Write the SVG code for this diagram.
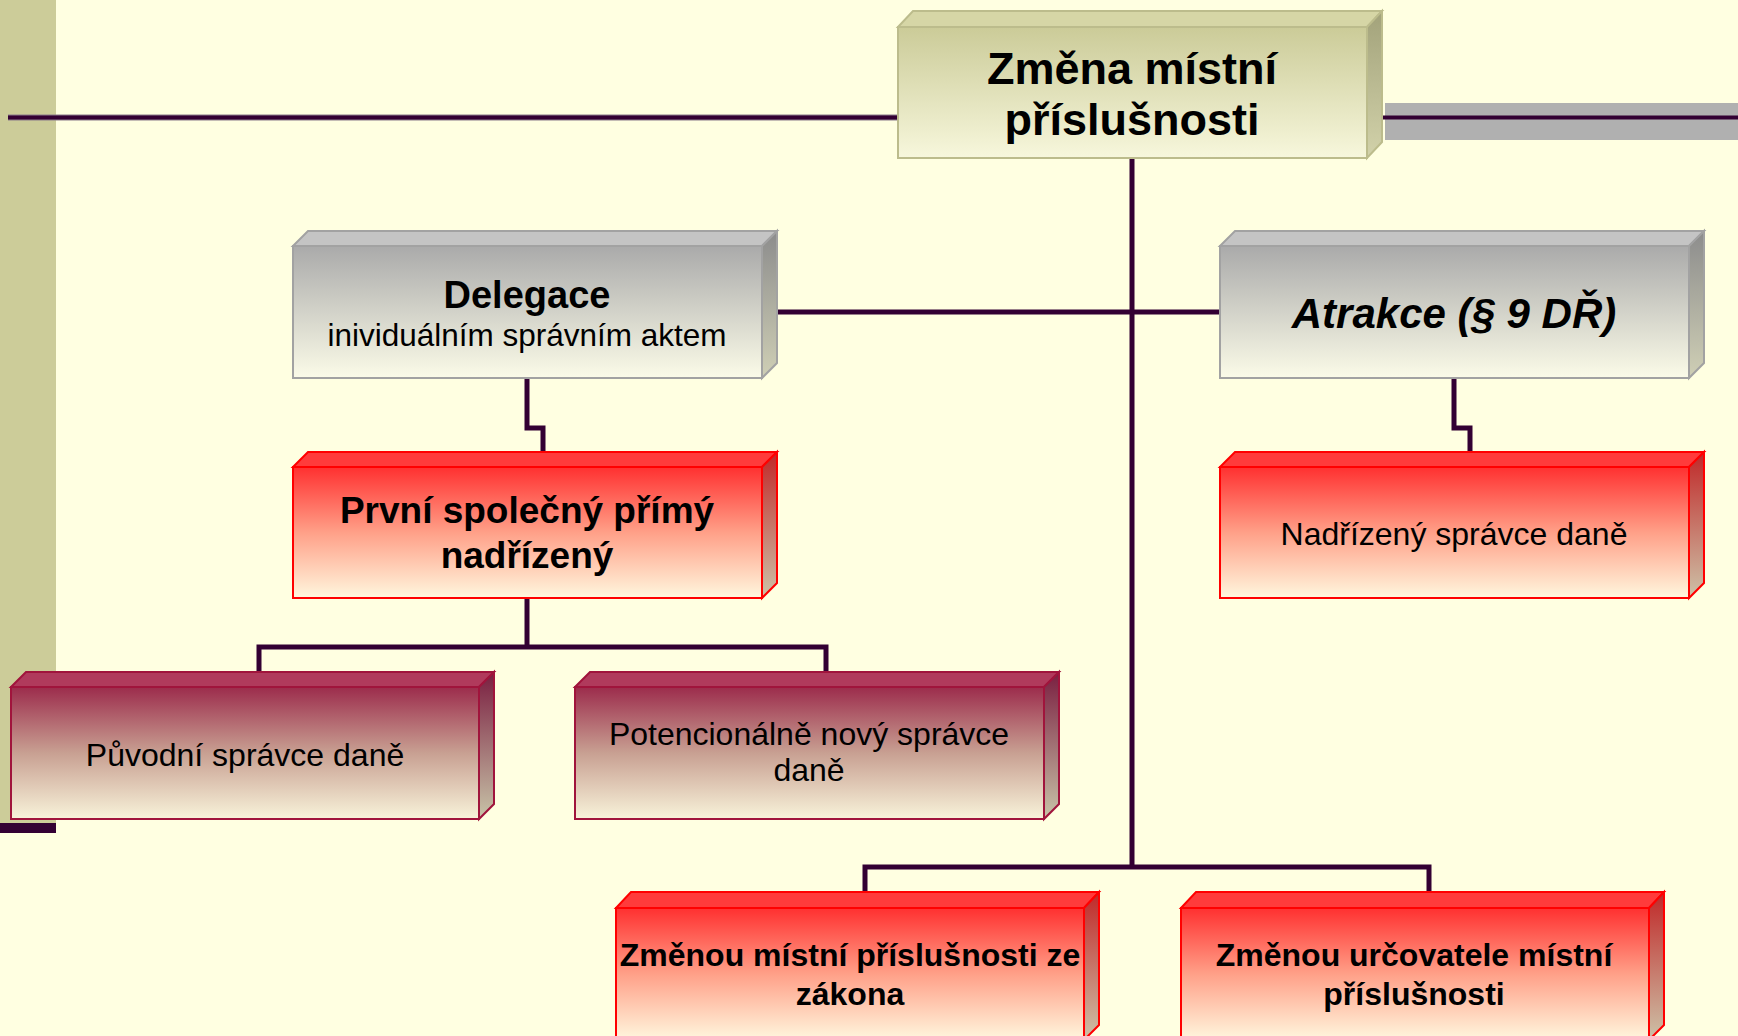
<svg xmlns="http://www.w3.org/2000/svg" width="1738" height="1036" viewBox="0 0 1738 1036">
<defs>
<linearGradient id="fGray" x1="0" y1="0" x2="0" y2="1"><stop offset="0" stop-color="#aaaaaa"/><stop offset="1" stop-color="#fbfbe8"/></linearGradient>
<linearGradient id="sGray" x1="0" y1="0" x2="0" y2="1"><stop offset="0" stop-color="#8c8c8c"/><stop offset="1" stop-color="#cfcfb5"/></linearGradient>
<linearGradient id="fOlive" x1="0" y1="0" x2="0" y2="1"><stop offset="0" stop-color="#cbcb98"/><stop offset="1" stop-color="#f7f7dc"/></linearGradient>
<linearGradient id="sOlive" x1="0" y1="0" x2="0" y2="1"><stop offset="0" stop-color="#a2a27a"/><stop offset="1" stop-color="#d2d2aa"/></linearGradient>
<linearGradient id="fRed" x1="0" y1="0" x2="0" y2="1"><stop offset="0" stop-color="#ff3030"/><stop offset="0.5" stop-color="#ffa088"/><stop offset="1" stop-color="#fff7de"/></linearGradient>
<linearGradient id="sRed" x1="0" y1="0" x2="0" y2="1"><stop offset="0" stop-color="#c02828"/><stop offset="1" stop-color="#cdc2a8"/></linearGradient>
<linearGradient id="fMar" x1="0" y1="0" x2="0" y2="1"><stop offset="0" stop-color="#9c2c4c"/><stop offset="0.5" stop-color="#c8a092"/><stop offset="1" stop-color="#f8f3da"/></linearGradient>
<linearGradient id="sMar" x1="0" y1="0" x2="0" y2="1"><stop offset="0" stop-color="#7a1e40"/><stop offset="1" stop-color="#c8c4a8"/></linearGradient>
</defs>
<style>
text{font-family:"Liberation Sans",Arial,sans-serif;fill:#000;text-anchor:middle}
.b{font-weight:bold}
.gray .f{fill:url(#fGray)} .gray .s{fill:url(#sGray)} .gray .t{fill:#c4c4c4} .gray polygon,.gray rect{stroke:#a2a2a2;stroke-width:2}
.olive .f{fill:url(#fOlive)} .olive .s{fill:url(#sOlive)} .olive .t{fill:#d6d6a6} .olive polygon,.olive rect{stroke:#bcbc8c;stroke-width:2}
.red .f{fill:url(#fRed)} .red .s{fill:url(#sRed)} .red .t{fill:#ff3b3b} .red polygon,.red rect{stroke:#ff0000;stroke-width:2}
.mar .f{fill:url(#fMar)} .mar .s{fill:url(#sMar)} .mar .t{fill:#b03a5c} .mar polygon,.mar rect{stroke:#a0143c;stroke-width:2}
.c{fill:none;stroke:#330033;stroke-width:5}
</style>
<rect width="1738" height="1036" fill="#ffffe1"/>
<rect x="0" y="0" width="56" height="823" fill="#cccc99"/>
<rect x="0" y="823" width="56" height="10" fill="#330033"/>
<rect x="1385" y="103" width="353" height="37" fill="#b0b0b0"/>
<g id="connectors">
<line x1="8" y1="117.5" x2="898" y2="117.5" stroke="#8a7a8a" stroke-width="6"/>
<line x1="8" y1="117.5" x2="898" y2="117.5" stroke="#330033" stroke-width="4"/>
<line x1="1380" y1="117.5" x2="1738" y2="117.5" stroke="#330033" stroke-width="4"/>
<path class="c" d="M1132,158 V867"/>
<path class="c" d="M777,312 H1220"/>
<path class="c" d="M865,892 V867 H1429 V892"/>
<path class="c" d="M527,378 V428 H543 V452"/>
<path class="c" d="M1454,378 V428 H1470 V452"/>
<path class="c" d="M527,598 V647"/>
<path class="c" d="M259,672 V647 H826 V672"/>
</g>
<g id="n-zmena" class="olive">
<polygon class="t" points="898,27 913,11 1382,11 1367,27"/>
<polygon class="s" points="1367,27 1382,11 1382,142 1367,158"/>
<rect class="f" x="898" y="27" width="469" height="131"/>
<text class="b" x="1132" y="84" font-size="45">Změna místní</text>
<text class="b" x="1132" y="135" font-size="45">příslušnosti</text>
</g>
<g id="n-delegace" class="gray">
<polygon class="t" points="293,246 308,231 777,231 762,246"/>
<polygon class="s" points="762,246 777,231 777,363 762,378"/>
<rect class="f" x="293" y="246" width="469" height="132"/>
<text class="b" x="527" y="308" font-size="38">Delegace</text>
<text x="527" y="346" font-size="31.5">inividuálním správním aktem</text>
</g>
<g id="n-atrakce" class="gray">
<polygon class="t" points="1220,246 1235,231 1704,231 1689,246"/>
<polygon class="s" points="1689,246 1704,231 1704,363 1689,378"/>
<rect class="f" x="1220" y="246" width="469" height="132"/>
<text class="b" x="1454" y="328" font-size="42" font-style="italic">Atrakce (§ 9 DŘ)</text>
</g>
<g id="n-prvni" class="red">
<polygon class="t" points="293,467 308,452 777,452 762,467"/>
<polygon class="s" points="762,467 777,452 777,583 762,598"/>
<rect class="f" x="293" y="467" width="469" height="131"/>
<text class="b" x="527" y="523" font-size="37">První společný přímý</text>
<text class="b" x="527" y="568" font-size="37">nadřízený</text>
</g>
<g id="n-nadrizeny" class="red">
<polygon class="t" points="1220,467 1235,452 1704,452 1689,467"/>
<polygon class="s" points="1689,467 1704,452 1704,583 1689,598"/>
<rect class="f" x="1220" y="467" width="469" height="131"/>
<text x="1454" y="545" font-size="32">Nadřízený správce daně</text>
</g>
<g id="n-puvodni" class="mar">
<polygon class="t" points="11,687 26,672 494,672 479,687"/>
<polygon class="s" points="479,687 494,672 494,804 479,819"/>
<rect class="f" x="11" y="687" width="468" height="132"/>
<text x="245" y="766" font-size="32">Původní správce daně</text>
</g>
<g id="n-potencionalne" class="mar">
<polygon class="t" points="575,687 590,672 1059,672 1044,687"/>
<polygon class="s" points="1044,687 1059,672 1059,804 1044,819"/>
<rect class="f" x="575" y="687" width="469" height="132"/>
<text x="809" y="745" font-size="32">Potencionálně nový správce</text>
<text x="809" y="781" font-size="32">daně</text>
</g>
<g id="n-zakona" class="red">
<polygon class="t" points="616,908 631,892 1099,892 1084,908"/>
<polygon class="s" points="1084,908 1099,892 1099,1025 1084,1040"/>
<rect class="f" x="616" y="908" width="468" height="132"/>
<text class="b" x="850" y="966" font-size="32">Změnou místní příslušnosti ze</text>
<text class="b" x="850" y="1005" font-size="32">zákona</text>
</g>
<g id="n-urcovatele" class="red">
<polygon class="t" points="1181,908 1196,892 1664,892 1649,908"/>
<polygon class="s" points="1649,908 1664,892 1664,1025 1649,1040"/>
<rect class="f" x="1181" y="908" width="468" height="132"/>
<text class="b" x="1414" y="966" font-size="32">Změnou určovatele místní</text>
<text class="b" x="1414" y="1005" font-size="32">příslušnosti</text>
</g>
</svg>
